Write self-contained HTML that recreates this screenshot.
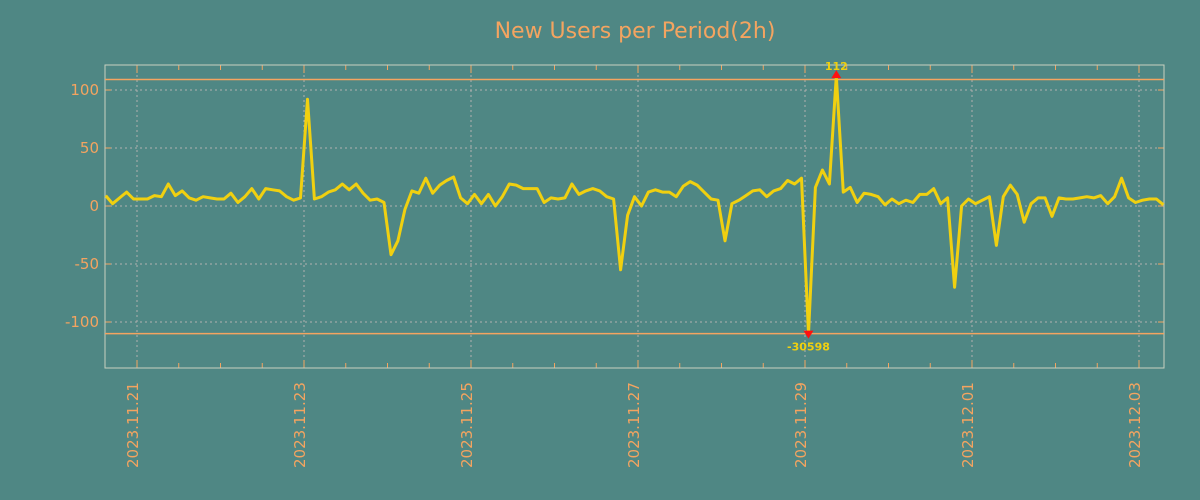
<!DOCTYPE html>
<html><head><meta charset="utf-8"><style>
html,body{margin:0;padding:0;background:#4f8784;}
svg{display:block;font-family:"DejaVu Sans","Liberation Sans",sans-serif;}
</style></head><body>
<svg id="chart" width="1200" height="500">
<rect width="1200" height="500" fill="#4f8784"/>
<text x="635" y="38" text-anchor="middle" font-size="22" fill="#f4a460">New Users per Period(2h)</text>
<g id="grid"></g><g id="axes"></g><g id="series"></g>
</svg>
<script>
const xTickLabels=["2023.11.21","2023.11.23","2023.11.25","2023.11.27","2023.11.29","2023.12.01","2023.12.03"];
const xTickDays=[0,2,4,6,8,10,12];
const yTickValues=[100,50,0,-50,-100];
const boundValues=[109,-110];
const startHour=-9;
const values=[9,2,7,12,6,6,6,9,8,19,9,13,7,5,8,7,6,6,11,3,8,15,6,15,14,13,8,5,7,92,
6,8,12,14,19,14,19,11,5,6,3,-42,-30,-3,13,11,24,11,18,22,25,7,2,10,2,10,0,8,19,18,
15,15,15,3,7,6,7,19,10,13,15,13,8,6,-55,-8,8,0,12,14,12,12,8,17,21,18,12,6,5,-30,
2,5,9,13,14,8,13,15,22,19,24,-30598,16,31,19,112,12,16,3,11,10,8,1,6,2,5,3,10,10,15,
2,7,-70,0,6,2,5,8,-34,8,18,10,-14,2,7,7,-9,7,6,6,7,8,7,9,2,8,24,7,3,5,6,6,1];
const NS="http://www.w3.org/2000/svg";
const L=105,R=1164,T=65,B=368;
const xDay=d=>137+83.5*d;
const xIdx=i=>xDay((startHour+2*i)/24);
const yv=v=>206-1.16*v;
const ORANGE="#f4a460";
function mk(tag,attrs,parent){const e=document.createElementNS(NS,tag);for(const k in attrs)e.setAttribute(k,attrs[k]);parent.appendChild(e);return e;}
const grid=document.getElementById('grid'),axes=document.getElementById('axes'),series=document.getElementById('series');
yTickValues.forEach((v,k)=>{
 const y=yv(v);
 const g=mk('line',{x1:L,x2:R,y1:y,y2:y,stroke:"#b0b0b0","stroke-dasharray":"2,3","stroke-width":1},grid);
 
 
 mk('line',{x1:L,x2:L+6,y1:y,y2:y,stroke:ORANGE},axes);
 mk('line',{x1:R-6,x2:R,y1:y,y2:y,stroke:ORANGE},axes);
 const t=mk('text',{x:L-6,y:y+5,"text-anchor":"end","font-size":15,fill:ORANGE},axes);
 t.textContent=String(v);
 
 
});
xTickDays.forEach((d,k)=>{
 const x=xDay(d);
 const g=mk('line',{x1:x,x2:x,y1:T,y2:B,stroke:"#b0b0b0","stroke-dasharray":"2,3","stroke-width":1},grid);
 
 
 const t=mk('text',{transform:`translate(${x+1},${B+100}) rotate(-90)`,"font-size":15,fill:ORANGE},axes);
 t.textContent=xTickLabels[k];
 
 
});
for(let d=-0.5;d<=12.5;d+=0.5){const x=xDay(d);if(x<L||x>R)continue;const h=(d%2===0)?8:5;
 mk('line',{x1:x,x2:x,y1:T,y2:T+h,stroke:ORANGE},axes);mk('line',{x1:x,x2:x,y1:B-h,y2:B,stroke:ORANGE},axes);}
const frame=mk('rect',{x:L,y:T,width:R-L,height:B-T,fill:"none",stroke:"#c8d0c0","stroke-width":1},axes);


boundValues.forEach(v=>{const l=mk('line',{x1:L,x2:R,y1:yv(v),y2:yv(v),stroke:ORANGE,"stroke-width":1.5},axes);
 
 });
const clampMin=-110;
const pts=values.map((v,i)=>xIdx(i).toFixed(1)+","+yv(Math.max(v,clampMin)).toFixed(1)).join(" ");
const line=mk('polyline',{points:pts,fill:"none",stroke:"#f0d010","stroke-width":3,"stroke-linejoin":"round"},series);


let iMax=0,iMin=0;values.forEach((v,i)=>{if(v>values[iMax])iMax=i;if(v<values[iMin])iMin=i;});
const xm=xIdx(iMax),ym=yv(values[iMax]);
const tri1=mk('polygon',{points:`${xm-5},${ym+2} ${xm+5},${ym+2} ${xm},${ym-6}`,fill:"#ff1010"},series);


const lt1=mk('text',{x:xm,y:ym-6,"text-anchor":"middle","font-size":11,"font-weight":"bold",fill:"#f0d010"},series);
lt1.textContent=String(values[iMax]);


const xn=xIdx(iMin),yn=yv(clampMin);
const tri2=mk('polygon',{points:`${xn-5},${yn-3} ${xn+5},${yn-3} ${xn},${yn+5}`,fill:"#ff1010"},series);


const lt2=mk('text',{x:xn,y:yn+17,"text-anchor":"middle","font-size":11,"font-weight":"bold",fill:"#f0d010"},series);
lt2.textContent=String(values[iMin]);


</script>
</body></html>
